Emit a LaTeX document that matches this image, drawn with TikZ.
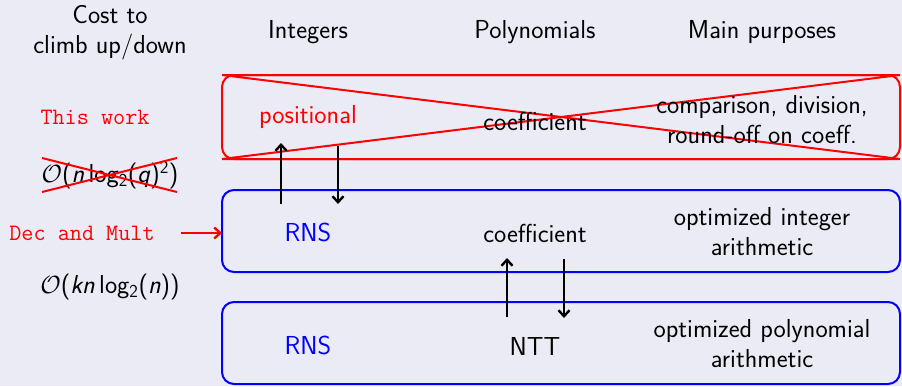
\documentclass[tikz,border=0pt]{standalone}
\usepackage{fontspec}
\definecolor{bg}{RGB}{235,235,246}
\definecolor{myred}{RGB}{255,0,0}
\definecolor{myblue}{RGB}{0,0,255}
\usetikzlibrary{arrows.meta}
\tikzset{
  lbl/.style={font=\fontsize{26}{30}\selectfont\sffamily, inner sep=0pt, align=center},
  ttl/.style={font=\fontsize{23.5}{28}\selectfont\ttfamily, inner sep=0pt, text=myred},
  layer/.style={line width=2pt, rounded corners=12pt},
  updown/.style={line width=2.4pt, -{Straight Barb[length=6pt,width=11pt]}},
}
\newcommand{\vv}[1]{\textsl{#1}}
\begin{document}
\begin{tikzpicture}[x=1pt,y=-1pt]
\fill[bg] (0,0) rectangle (902,386);
\useasboundingbox (0,0) rectangle (902,386);
% headers
\node[lbl] (h0) at (110,33) {Cost to\\climb up/down};
\node[lbl] (h1) at (308,32) {Integers};
\node[lbl] (h2) at (535,32) {Polynomials};
\node[lbl] (h3) at (762,32) {Main purposes};
% boxes
\draw[layer, myred] (222,75) rectangle (900,159);
\coordinate (r1) at (222,75); \coordinate (r2) at (900,75);
\coordinate (r3) at (900,159); \coordinate (r4) at (222,159);
\draw[myred, line width=2pt] (r1) -- (r3) (r4) -- (r2) (r1) -- (r2) (r4) -- (r3);
\draw[layer, myblue] (222,190) rectangle (900,272);
\draw[layer, myblue] (222,302) rectangle (900,384);
% contents
\node[lbl, text=myred] (pos) at (308,117) {positional};
\node[lbl] (c1) at (535,121) {coefficient};
\node[lbl] (p1) at (762,120) {comparison, division,\\round-off on coeff.};
\node[lbl, text=myblue] (rns1) at (308,232) {RNS};
\node[lbl] (c2) at (535,233) {coefficient};
\node[lbl] (p2) at (762,232) {optimized integer\\arithmetic};
\node[lbl, text=myblue] (rns2) at (308,345) {RNS};
\node[lbl] (ntt) at (535,346) {NTT};
\node[lbl] (p3) at (762,344) {optimized polynomial\\arithmetic};
% climb arrows
\coordinate (a1s) at (281,204); \coordinate (a1e) at (281,143);
\coordinate (a2s) at (338,146); \coordinate (a2e) at (338,204);
\coordinate (a3s) at (507,317); \coordinate (a3e) at (507,258);
\coordinate (a4s) at (564,259); \coordinate (a4e) at (564,318);
\draw[updown] (a1s) -- (a1e);
\draw[updown] (a2s) -- (a2e);
\draw[updown] (a3s) -- (a3e);
\draw[updown] (a4s) -- (a4e);
% left column
\node[ttl] (tw) at (95,117) {This work};
\node[lbl] (cost1) at (110,175) {$\mathcal{O}$(\vv{n}\,log\textsubscript{2}(\vv{q})\textsuperscript{2})};
\draw[myred, line width=2pt] (42,158) -- (177,192) (42,192) -- (177,158);
\node[ttl] (dm) at (82,233) {Dec and Mult};
\coordinate (dmarr) at (181,233);
\draw[myred, line width=2.4pt, -{Straight Barb[length=6pt,width=11pt]}] (dmarr) -- (222,233);
\node[lbl] (cost2) at (110,287) {$\mathcal{O}$(\vv{kn}\,log\textsubscript{2}(\vv{n}))};
\end{tikzpicture}
\end{document}
